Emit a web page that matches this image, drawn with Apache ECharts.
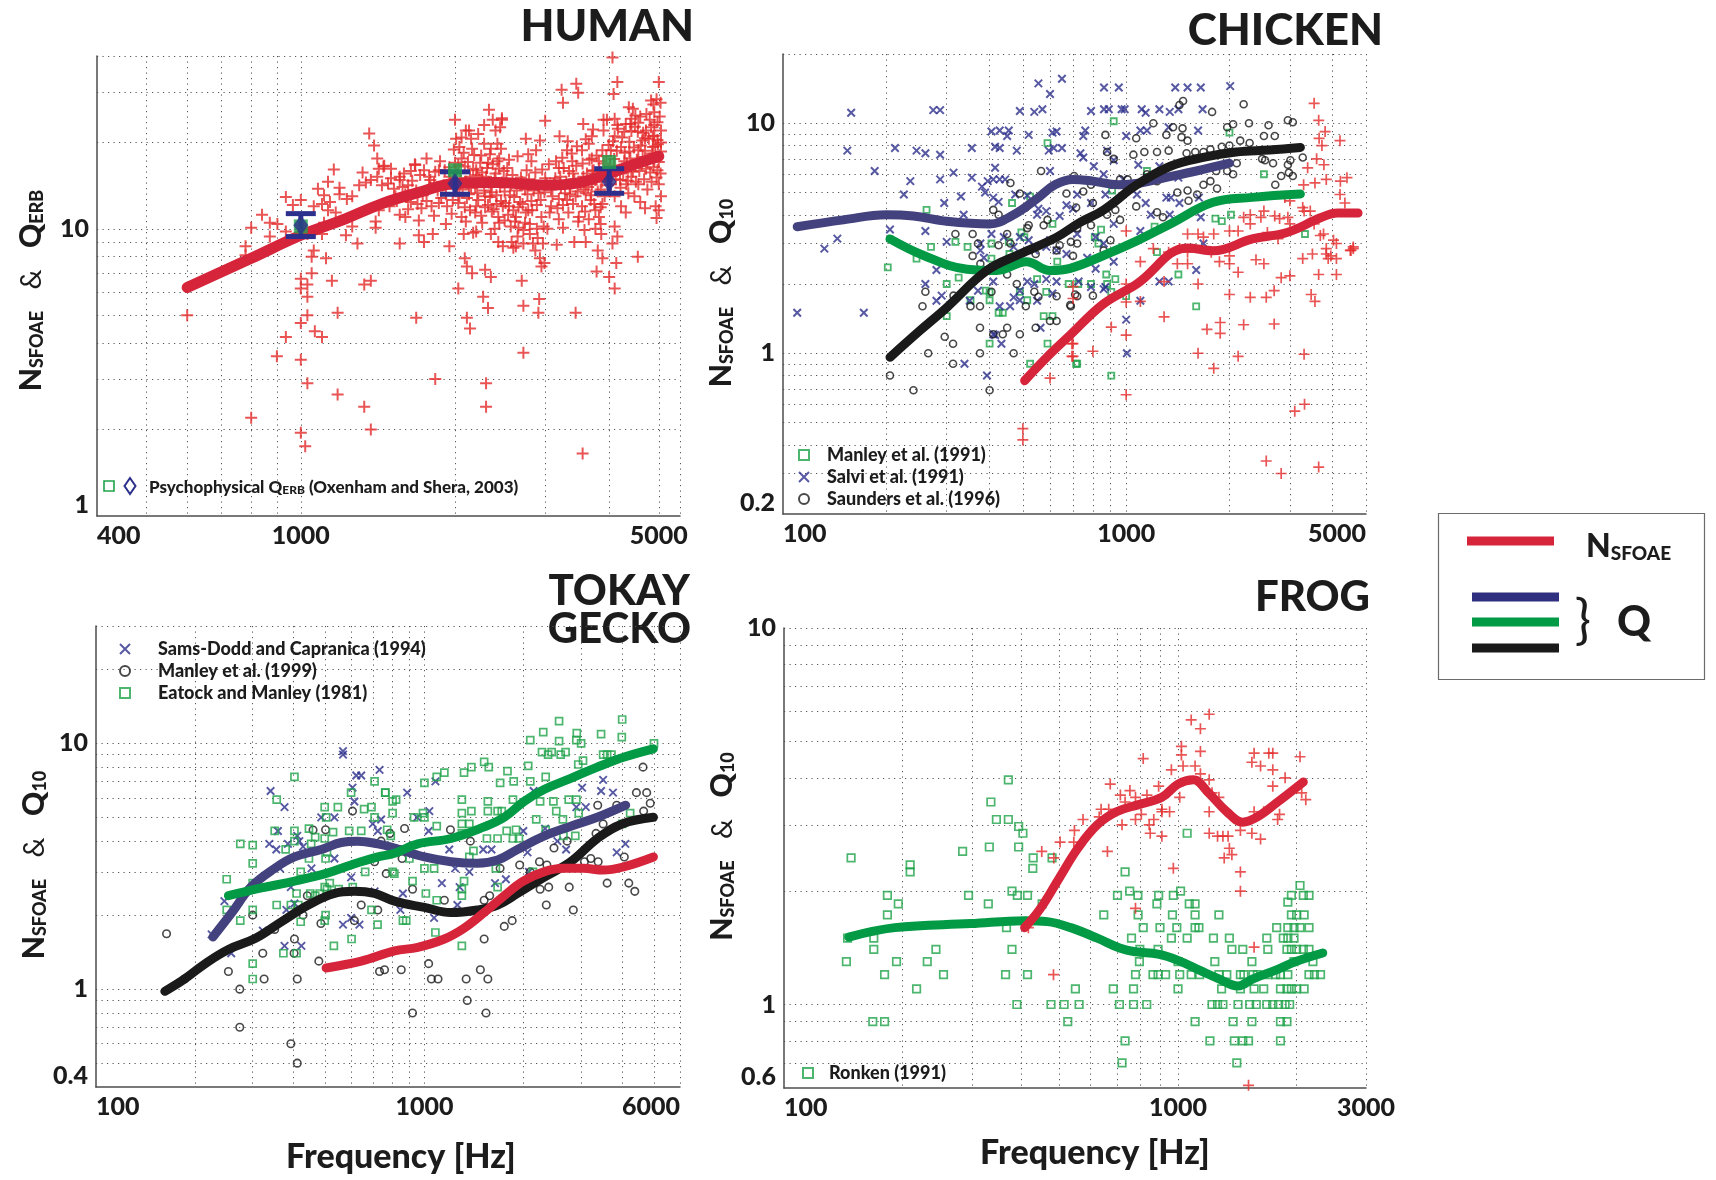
<!DOCTYPE html>
<html>
<head>
<meta charset="utf-8">
<script src="https://cdn.jsdelivr.net/npm/echarts/dist/echarts.min.js"></script>
<style>
html,body{margin:0;padding:0;background:#fff}
#chart{width:1716px;height:1180px}
</style>
</head>
<body>
<div id="chart"></div>
<script>
// ---------- axis ticks and labels ----------
const humanXTicks = [500,600,700,800,900,1000,2000,3000,4000,5000,5500];
const humanXLabels = [400,1000,5000];
const humanYTicks = [2,3,4,5,6,7,8,9,10,20,30,40];
const humanYLabels = [1,10];

const chickenXTicks = [200,300,400,500,600,700,800,900,1000,2000,3000,4000,5000];
const chickenXLabels = [100,1000,5000];
const chickenYTicks = [0.3,0.4,0.5,0.6,0.7,0.8,0.9,1,2,3,4,5,6,7,8,9,10,20];
const chickenYLabels = [0.2,1,10];

const geckoXTicks = [200,300,400,500,600,700,800,900,1000,2000,3000,4000,5000,6000];
const geckoXLabels = [100,1000,6000];
const geckoYTicks = [0.5,0.6,0.7,0.8,0.9,1,2,3,4,5,6,7,8,9,10,20,30];
const geckoYLabels = [0.4,1,10];

const frogXTicks = [200,300,400,500,600,700,800,900,1000,2000,3000];
const frogXLabels = [100,1000,3000];
const frogYTicks = [0.7,0.8,0.9,1,2,3,4,5,6,7,8,9,10];
const frogYLabels = [0.6,1,10];

// ---------- HUMAN: [frequency Hz, value] ----------
const humanN = [
[600,5.0],[800,2.2],[898,3.6],[935,4.2],[1000,3.5],[1030,2.9],[1000,1.95],[1020,1.75],[1000,4.7],[1030,5.0],[1065,4.4],[1100,4.2],
[1030,5.8],[1000,6.2],[1000,6.7],[1030,6.4],[1050,7.0],[1050,8.0],[1060,8.4],[1120,7.9],[1150,6.6],[1180,5.1],[1180,2.65],[1330,2.4],
[1370,2.0],[1330,6.4],[1370,6.6],[1290,8.9],[1400,10.1],[1360,21.5],[1390,19.5],[1410,17.6],[780,8.7],[780,8.1],[800,10.1],[840,11.2],
[870,10.5],[870,9.4],[900,10.4],[935,12.9],[935,9.8],[965,12.1],[1000,12.6],[1080,13.8],[1100,12.2],[1130,14.6],[1160,16.1],[1190,13.9],
[1190,13.2],[1130,11.6],[1110,10.5],[1100,9.6],[1225,9.5],[1260,10.2],[1230,12.7],[1260,13.0],[1300,14.2],[1320,15.7],[1340,14.5],[1370,14.8],
[1410,15.2],[1420,16.2],[1450,16.5],[1440,14.2],[1420,11.6],[1400,10.6],[1170,11.4],[1140,12.4],[1110,13.1],[1060,12.0],[1030,9.6],
[1680,4.9],[1830,3.0],[2300,2.9],[2300,2.4],[2030,6.2],[2110,4.9],[2140,4.5],[2090,7.9],[2110,7.4],[2160,7.0],[2290,7.2],[2350,6.8],
[2270,5.8],[2320,5.3],[2700,6.6],[2720,5.4],[2720,3.7],[2920,5.7],[2910,5.1],[3440,5.1],[3550,1.65],[3780,7.1],[4000,6.8],[4100,6.2],
[4130,7.6],[4550,8.0],[5000,11.6],[1560,8.9],[1700,9.5],[1740,9.0],[1810,9.6],[1950,8.7],[2080,9.6],[2170,9.7],[2430,9.0],[2480,8.7],
[2630,8.7],[2870,8.4],[2930,7.9],[2950,7.4],[2990,7.6],[3160,8.8],[3420,9.0],[3600,9.0],[3800,8.4],[3880,7.9],[4060,8.9],[4150,9.4],
[4100,10.2],[3760,10.0],[3850,10.4],
[4060,39.5],[3450,32],[3230,30.5],[3480,29.8],[3250,27.5],[4150,32.5],[4080,29.5],[5000,32.5],[4830,28],[4950,28.3],[4370,26.5],[2330,26],
[2470,24],[2000,24],[2100,22],[2150,20.6],[3000,23.8],[2750,20.6],[3200,21],[3560,23.2],[3720,22.2],[3900,24],[4100,24.2],[4600,24.6],
[4400,23.2],[4550,21.8],[4900,23],[5050,22],[4700,20.7],[4980,19.7],[1673,16.7],[1860,16],[1790,14.8],[1500,16.2],[1560,15.2],[1620,14.2],
[1720,11.8],
[1455,16.6],[1500,15],[1480,14.4],[1560,14.8],[1580,14],[1530,13],[1600,13.2],[1640,12.4],[1680,13.6],[1620,11.7],[1560,11.2],[1490,12],
[1670,16.8],[1740,16],[1780,15.2],[1820,14.4],[1850,13.6],[1880,12.8],[1800,12],[1930,12],[1970,11.3],[1950,15.2],[2000,17],[1990,18.9],
[2010,20.6],[2040,19.3],[1950,16.4],[1910,16],[2060,17.6],[2000,13.8],[2040,13],[2030,12.3],[2060,11],[2090,11.9],
[2130,22],[2160,19],[2090,16.5],[2140,15.2],[2190,14],[2130,13.2],[2220,12.6],[2190,11.4],[2260,10.5],[2290,11.9],[2340,12.9],[2350,14],
[2390,15],[2320,17],[2350,19],[2420,19.8],[2400,22],[2370,24],[2470,24.3],[2450,22.6],[2440,17.6],[2440,16.2],[2470,14.5],[2500,13.5],
[2460,12.5],[2430,11],[2390,10],[2500,10.7],[2300,15.2],[2200,16],[2250,18],[2280,13.6],[2360,11.5],[2410,12.2],[2210,15.4],
[2530,16.3],[2570,14.3],[2610,12.9],[2550,12],[2630,11],[2570,10.2],[2650,9.4],[2740,10.5],[2780,11.6],[2820,12.5],[2740,13.7],[2700,14.6],
[2760,16],[2820,17.2],[2880,18.8],[2930,20.3],[2860,14.3],[2910,13.3],[2950,11],[2890,10],[2970,8.9],[3000,15],[2600,11.6],[2680,12.4],
[2660,10.1],[2800,9.6],[2720,8.9],[2580,9.0],
[3080,13.7],[3140,15],[3190,16.3],[3240,17.7],[3310,18.8],[3390,17.2],[3460,19.4],[3540,18.8],[3600,20.5],[3650,19.8],[3700,17.6],[3730,16],
[3820,17.2],[3880,18.8],[3900,22],[3960,24],[3080,12],[3190,12.7],[3280,13.3],[3360,14],[3440,13],[3540,12],[3600,13.3],[3680,12.6],
[3760,11.6],[3820,11],[3650,10.8],[3490,11],[3330,11.4],[3190,10.8],[3880,12.2],[3850,13.7],[3700,14.3],[3930,15.2],[3400,15.6],[3560,15.2],
[4030,18.8],[4100,21],[4150,23],[4220,19.3],[4280,17.2],[4150,16],[4030,14.3],[4100,13],[4220,12],[4320,14.3],[4420,15.2],[4500,16.6],
[4560,18.8],[4640,20.3],[4720,22],[4800,24],[4870,19.3],[4900,17.2],[4970,16],[5000,14.3],[5050,13],[4930,12],[4840,14.6],[4720,16.2],
[4560,14.3],[4480,13],[4600,12.4],[4360,13.3],[4870,21],[4970,23.5],[4800,17.6],[4280,21.8],[4420,24.2],[4500,24.8],[4650,17.8],[4380,18.6],
[4900,25.5],[5050,18.6],[4750,13.7],[4200,14.8],
[1520,13.8],[1540,12.5],[1590,15.6],[1610,12.9],[1650,14.7],[1690,12.2],[1710,15.4],[1730,13.1],[1760,12.5],[1790,13.9],[1830,15.8],[1860,12.3],
[1900,14.2],[1920,13.2],[1960,14.7],[1980,12.6],[1870,17.2],[1760,17.6],[1640,15.9],[1600,11.0],[1700,10.7],[1820,11.1],[1920,10.4],
[2010,15.8],[2020,14.1],[2030,16.7],[2050,15.0],[2070,13.7],[2080,18.4],[2100,14.6],[2110,12.8],[2120,17.1],[2140,11.6],[2150,13.9],[2170,16.2],
[2180,18.1],[2200,12.0],[2210,13.3],[2230,14.9],[2240,17.0],[2250,11.1],[2260,15.7],[2280,19.8],[2290,13.0],[2310,16.3],[2320,12.1],[2330,14.5],
[2340,18.2],[2360,13.4],[2370,16.8],[2380,11.7],[2400,15.6],[2410,13.1],[2420,17.2],[2440,10.5],[2450,14.0],[2460,19.0],[2480,12.0],[2490,15.9],
[2100,10.6],[2200,9.8],[2350,9.6],[2060,20.8],[2220,21.4],[2280,23.0],
[2510,12.3],[2520,14.9],[2540,11.2],[2560,13.1],[2590,15.4],[2620,10.6],[2640,13.6],[2660,11.9],[2690,15.1],[2710,12.2],[2720,9.9],[2750,11.4],
[2770,13.2],[2790,14.9],[2800,10.4],[2830,11.6],[2850,13.6],[2870,15.7],[2890,12.1],[2900,9.3],[2920,14.1],[2940,12.6],[2960,16.1],[2980,10.2],
[2990,13.4],[2550,17.4],[2650,17.9],[2780,18.2],[2600,8.6],[2840,8.9],
[3020,14.4],[3050,16.8],[3060,11.4],[3100,13.0],[3120,14.4],[3150,17.2],[3170,11.8],[3210,15.2],[3220,13.9],[3250,12.1],[3260,16.3],[3300,14.6],
[3310,12.6],[3340,15.9],[3350,13.2],[3380,18.3],[3400,12.2],[3420,14.9],[3450,16.6],[3470,13.5],[3480,10.6],[3030,10.0],[3250,10.1],[3320,20.2],
[3520,14.4],[3550,16.9],[3570,13.7],[3590,11.5],[3620,15.6],[3640,14.0],[3660,17.4],[3690,13.1],[3710,15.9],[3740,12.2],[3760,14.8],[3780,18.0],
[3800,13.5],[3830,15.8],[3850,11.9],[3870,14.6],[3900,16.9],[3920,13.0],[3950,17.9],[3980,14.2],[3990,19.6],[3700,21.0],[3580,9.9],[3860,9.6],
[4020,16.6],[4050,15.3],[4070,20.2],[4090,17.5],[4120,14.9],[4140,18.7],[4160,22.3],[4190,16.1],[4210,13.9],[4240,20.8],[4260,15.6],[4290,18.4],
[4310,23.2],[4330,16.9],[4350,14.7],[4380,20.1],[4400,17.6],[4420,21.9],[4450,15.8],[4470,19.2],[4490,22.7],[4510,14.6],[4530,17.4],[4560,23.4],
[4580,15.9],[4610,19.5],[4630,16.8],[4660,21.6],[4680,14.9],[4700,18.7],[4730,25.1],[4750,17.1],[4780,20.6],[4810,15.7],[4830,22.6],[4850,18.3],
[4880,16.4],[4900,21.1],[4920,19.4],[4950,15.1],[4970,20.4],[5000,17.1],[5020,24.6],[5040,15.6],[5050,20.0],[4310,11.4],[4700,11.8],[4950,10.9],
[4450,26.2],[4880,27.1],[5040,27.5]
];
const humanNFit = [[600,6.25],[800,7.9],[1000,9.5],[1200,10.7],[1450,12.3],[1700,13.4],[2000,14.4],[2400,14.5],[3000,14.2],[3500,14.5],[4000,15.6],[4500,16.8],[5000,17.9]];

// psychophysical Q_ERB
const psyFreq = [1000,2000,4000];
const psyQerb = [10.3,14.4,14.6];
const psyLow = [9.4,13.2,13.3];
const psyHigh = [11.3,15.8,16.2];
const psyQerbAlt = [10.2,16.0,17.1];

// ---------- CHICKEN ----------
const chickenSalvi = [
[158,11.1],[274,11.4],[287,11.4],[154,7.6],[185,6.2],[212,7.8],[245,7.6],[260,7.4],[287,7.3],[355,7.8],[235,5.6],[225,4.9],[287,5.7],
[295,4.5],[314,6.1],[330,4.8],[355,5.8],[336,4.0],[260,3.4],[300,3.05],[205,3.45],[144,3.15],[132,2.85],[280,2.3],[260,2.0],[290,1.78],
[280,1.69],[110,1.5],[172,1.5],[338,0.9],[393,0.8],[415,1.2],[433,1.1],[428,1.6],[459,1.6],[490,1.7],[490,11.3],[540,11.2],[570,11.5],
[555,14.9],[600,13.4],[650,15.6],[405,9.2],[428,9.3],[455,9.3],[450,8.8],[415,7.9],[428,7.8],[480,7.6],[520,8.9],[595,7.6],[610,9.1],
[627,9.2],[615,7.8],[650,7.8],[600,6.2],[415,6.4],[380,5.3],[395,5.6],[410,5.7],[428,5.7],[444,5.7],[388,5.0],[410,4.75],[425,4.55],
[475,4.9],[515,4.85],[550,4.0],[555,4.25],[585,4.15],[640,3.95],[670,4.4],[700,4.25],[376,2.8],[385,2.6],[405,3.3],[376,3.0],[440,3.2],
[470,2.9],[490,3.2],[520,3.1],[540,2.8],[585,2.9],[600,3.1],[627,2.8],[670,2.7],[515,2.05],[540,2.0],[585,2.1],[627,2.05],[610,1.82],
[350,1.69],[370,1.87],[470,1.75],[490,1.87],[550,1.69],[563,1.29],[410,1.21],[410,2.05],
[862,14.3],[952,14.3],[1390,14.3],[1510,14.3],[1650,14.3],[2010,14.5],[790,11.3],[862,11.5],[890,11.5],[970,11.5],[990,11.5],[1110,11.5],
[1140,11.1],[1250,11.5],[1340,11.2],[1420,11.5],[1670,11.5],[760,9.3],[750,8.8],[1100,9.3],[1150,9.3],[1330,9.6],[1620,9.3],[1000,8.8],
[736,7.4],[750,7.1],[880,7.6],[920,6.9],[805,6.5],[1085,6.6],[1250,6.5],[860,6.0],[980,5.7],[1150,5.8],[1420,5.8],[720,4.9],[790,4.5],
[870,4.9],[1075,4.9],[1140,4.5],[1310,4.75],[1350,4.75],[1430,4.5],[1630,4.75],[1650,3.9],[920,3.65],[1100,3.4],[1180,4.0],[1340,4.0],
[720,3.3],[815,3.2],[860,3.0],[920,2.5],[770,2.6],[815,2.33],[727,2.05],[790,1.94],[860,1.9],[870,1.94],[1330,2.05],[1250,2.05],[1600,2.3],
[1680,3.0],[1100,1.69],[1000,1.4],[1005,1.0]
];
const chickenSaunders = [
[205,0.8],[240,0.69],[400,0.69],[265,1.0],[313,0.9],[296,1.18],[313,1.1],[375,1.0],[470,1.0],[375,1.29],[410,1.21],[437,1.21],[450,1.29],
[490,1.21],[545,1.29],[600,1.38],[627,1.38],[255,1.6],[352,1.6],[375,1.6],[510,1.6],[260,1.85],[314,1.78],[405,1.85],[480,2.0],[540,1.85],
[555,1.76],[627,1.77],[690,1.6],[720,1.77],[318,3.3],[357,3.3],[370,3.0],[357,2.65],[376,2.45],[425,2.95],[450,3.3],[460,3.0],[410,4.2],
[425,4.0],[460,5.5],[510,4.3],[515,3.5],[520,3.6],[565,6.2],[575,3.6],[590,3.8],[627,2.8],[640,2.95],[670,4.95],[690,3.05],[705,5.9],
[715,4.3],[545,2.7],[490,4.95],[450,2.2],
[1465,12.5],[1430,12.0],[2200,12.1],[1780,11.2],[2960,10.3],[3060,10.1],[2280,10.0],[2600,9.8],[2050,9.9],[1970,9.6],[1370,9.6],[1460,9.5],
[1200,10.0],[870,8.9],[1070,8.6],[1310,8.9],[1450,8.7],[1510,8.4],[2710,8.8],[2520,8.8],[2150,8.4],[2290,8.2],[2000,8.0],[1900,7.9],
[1760,7.7],[1680,7.5],[1590,7.5],[1500,7.4],[1330,7.6],[1230,7.5],[1130,7.5],[1050,7.3],[920,7.0],[880,7.5],[3010,6.9],[3270,7.1],
[2960,6.6],[2680,6.7],[2490,7.0],[2100,6.7],[2050,6.0],[1970,6.2],[1830,6.2],[1680,5.4],[1760,5.6],[1840,5.2],[1610,4.9],[1510,5.1],
[1410,5.0],[1230,5.6],[1150,6.0],[1050,5.4],[1010,5.7],[960,5.7],[910,5.4],[790,5.4],[750,5.05],[800,4.5],[880,4.0],[930,4.2],[960,3.8],
[1070,4.35],[1230,4.1],[1280,3.9],[1520,4.6],[790,3.6],[720,3.5],[720,3.0],[860,2.8],[900,3.1],[700,2.65],[710,1.8],[800,1.78],[687,1.62],
[2980,6.1],[3060,5.9],[2720,5.4],[2540,6.9],[2830,5.9]
];
const chickenManley = [
[202,2.36],[245,2.58],[262,4.2],[270,2.9],[300,2.0],[300,1.45],[318,3.05],[325,2.13],[345,2.9],[352,1.7],[400,1.84],[390,1.87],[400,1.7],
[405,3.0],[405,2.58],[425,1.5],[437,1.5],[465,4.5],[455,3.05],[457,2.7],[490,1.85],[495,3.35],[505,3.2],[525,4.8],[515,1.7],[525,0.9],
[550,2.1],[575,1.45],[590,1.1],[585,1.85],[590,8.2],[610,3.65],[610,1.45],[630,2.5],[680,2.0],[720,0.9],[400,1.1],
[920,10.2],[1150,6.2],[910,5.1],[1210,3.55],[845,3.45],[830,3.0],[810,3.2],[875,2.2],[930,2.1],[880,2.0],[790,2.0],[725,2.0],[905,1.85],
[1000,1.77],[1230,2.75],[1420,2.2],[1600,1.6],[2000,9.1],[2520,6.0],[2020,4.0],[1820,3.85],[1900,3.75],[3320,3.3],[715,0.9],[905,0.8]
];
const chickenN = [
[500,0.47],[500,0.42],[600,0.78],[700,1.95],[700,1.73],[700,1.1],[700,0.97],[695,0.97],[695,1.1],[800,1.02],[905,1.3],[1000,1.2],
[1000,0.66],[1000,1.67],[1000,2.0],[1000,3.4],[1100,1.68],[1290,1.44],[1620,2.0],[1620,1.0],[1720,1.27],[1800,0.86],[1880,1.36],[1880,1.22],
[2000,1.8],[2120,0.97],[2200,1.33],[2300,1.75],[2560,1.75],[2700,1.34],[2700,1.87],[2830,2.13],[3000,2.17],[3300,0.99],[3310,0.6],[3100,0.56],
[2560,0.34],[2830,0.3],[3640,0.32],[3460,1.8],[3550,1.68],[3640,2.2],[4100,2.2],[3490,2.7],[3270,2.58],[3830,2.7],[4020,3.1],[4100,2.58],
[4500,2.8],[4590,2.85],[4340,4.5],[4210,5.6],[4400,5.8],[4200,4.9],[4200,8.4],[3800,9.2],[3640,10.3],[3530,12.2],[3650,8.6],[3720,8.0],
[3590,7.0],[3770,6.6],[3830,5.7],[3550,5.5],[3380,6.4],[3300,4.15],[2900,4.75],[2960,3.9],[2710,3.95],[2520,4.15],[2470,3.9],[2300,3.65],
[2200,3.9],[2300,4.0],[2120,3.4],[2000,3.4],[1800,3.3],[1680,3.2],[1620,3.3],[1510,3.3],[1510,2.75],[1510,2.45],[1430,2.85],[1410,2.45],
[1330,2.75],[1290,2.05],[1200,2.85],[1100,2.5],[1770,2.75],[1870,2.5],[2000,2.45],[2120,2.25],[2000,2.65],[2390,2.55],[2520,2.45],[2770,3.15],
[2800,3.85],[3000,3.65],[2580,3.35],[3000,4.6],[3290,5.4],[3270,4.3],[3530,3.65],[3760,3.3],[3830,2.85],[3880,2.58],[4100,3.0],[3950,2.65],
[4520,2.8],[4590,2.9],[3680,3.25],[3440,4.15]
];
const chickenSalviFit = [[110,3.55],[150,3.8],[200,4.0],[240,3.95],[300,3.75],[400,3.65],[470,4.0],[550,4.7],[620,5.4],[700,5.7],[800,5.6],[950,5.4],[1100,5.5],[1300,5.8],[1600,6.2],[2000,6.7]];
const chickenSaundersFit = [[205,0.96],[250,1.25],[300,1.58],[393,2.29],[490,2.7],[626,3.19],[732,3.7],[860,4.2],[1074,5.4],[1345,6.5],[1677,7.1],[2090,7.5],[2620,7.65],[3220,7.85]];
const chickenManleyFit = [[205,3.14],[257,2.66],[344,2.32],[420,2.29],[512,2.5],[600,2.29],[687,2.34],[859,2.66],[1074,3.08],[1345,3.65],[1792,4.53],[2330,4.76],[3220,4.92]];
const chickenNFit = [[506,0.76],[587,0.96],[687,1.2],[859,1.64],[1074,2.0],[1510,2.87],[1790,2.79],[2330,3.14],[2940,3.35],[3700,3.89],[4130,4.07],[4740,4.07]];

// ---------- TOKAY GECKO ----------
const geckoSamsDodd = [
[340,6.4],[375,5.5],[358,4.4],[337,3.9],[354,3.7],[384,3.9],[410,4.2],[427,3.8],[416,4.0],[363,3.1],[392,2.6],[402,2.23],[380,2.1],
[322,1.73],[258,1.4],[246,2.28],[225,1.67],[375,1.5],[422,1.5],[485,5.0],[532,5.0],[565,9.3],[565,9.0],[620,7.4],[642,7.4],[730,7.8],
[604,6.6],[612,5.8],[696,4.7],[721,4.4],[738,4.9],[532,3.4],[598,2.85],[453,3.1],[705,2.5],[565,1.83],[634,1.83],[598,1.95],
[886,6.3],[1080,7.0],[1035,5.3],[950,5.0],[1030,4.4],[1190,3.7],[1240,3.1],[1370,3.0],[1130,2.7],[1280,2.6],[1260,2.2],[845,2.1],
[860,2.45],[1070,1.95],[1510,3.7],[1600,3.7],[1640,2.7],[1770,2.8],[2000,4.4],[2060,3.6],[2150,6.4],[2330,4.5],[2540,4.0],[2700,3.7],
[3020,6.6],[2900,5.5],[3100,5.5],[3500,7.1],[3450,6.4],[3750,6.3],[3850,3.6],[4090,3.9],[2080,3.0]
];
const geckoManley = [
[164,1.68],[186,1.1],[253,1.18],[274,1.0],[274,0.7],[322,1.4],[300,2.0],[325,1.1],[392,0.6],[401,1.4],[410,1.1],[410,0.5],[477,1.3],
[484,1.85],[458,4.44],[500,4.45],[604,5.3],[612,1.9],[705,3.3],[730,1.18],[765,2.95],[721,2.1],[402,1.6],[427,2.0],[350,1.75],[440,2.4],
[642,2.2],[738,4.0],
[756,1.2],[850,1.2],[920,0.8],[1030,1.27],[1050,1.1],[1100,1.1],[1340,1.1],[1350,0.9],[1480,1.2],[1560,1.1],[1540,0.8],[1520,1.6],
[1750,1.8],[1850,1.9],[1200,4.45],[1380,4.0],[870,4.5],[785,4.3],[855,3.4],[920,2.55],[1150,2.3],[1520,2.3],[1580,2.4],[1700,3.1],
[1950,3.2],[2240,3.3],[2100,3.0],[2360,3.2],[2390,2.6],[2350,2.2],[2760,2.6],[2840,2.1],[2250,2.55],[2480,3.75],[2720,4.0],[3070,3.3],
[3210,3.4],[3330,4.3],[3380,3.3],[3600,2.7],[3500,4.7],[3370,5.6],[3850,5.6],[4060,3.45],[4190,2.7],[4370,2.5],[4420,6.3],[4750,6.3],
[4870,5.7],[4630,8.0],[4650,5.3]
];
const geckoEatock = [
[250,2.8],[250,2.1],[275,3.9],[275,1.9],[300,3.85],[300,3.25],[300,2.7],[300,2.1],[300,1.27],[300,1.1],[355,5.9],[350,4.4],[355,2.2],
[378,3.7],[392,2.2],[402,7.3],[402,4.4],[402,4.0],[408,2.45],[413,2.2],[420,1.88],[372,1.4],[408,1.4],[445,4.5],[452,3.9],[465,4.15],
[465,2.4],[449,2.45],[480,2.45],[497,5.5],[502,5.0],[497,4.1],[500,3.4],[497,2.6],[505,2.55],[515,2.7],[520,2.45],[500,2.0],[497,1.9],
[530,1.5],[545,5.5],[527,4.35],[548,2.55],[598,6.3],[605,2.6],[600,1.6],[642,4.4],[660,3.0],[655,5.4],[705,7.0],[760,6.3],[705,5.0],
[690,2.1],[720,1.83],[770,4.45],[800,5.8],[800,3.0],[690,5.5],[590,4.4],[505,3.6],[420,3.0],[445,3.4],
[760,6.3],[820,5.9],[800,5.2],[930,5.0],[990,5.2],[1090,7.3],[1150,7.6],[1000,6.9],[1320,7.6],[1390,8.0],[1520,8.4],[1570,8.0],
[1790,7.7],[1700,6.9],[1870,7.0],[2070,8.1],[2100,7.0],[2340,7.3],[2100,10.3],[2300,11.1],[2280,9.2],[2380,9.0],[2440,9.2],[2600,9.0],
[2690,9.2],[2570,12.3],[2570,10.2],[2910,11.0],[2900,10.3],[3000,10.0],[2940,8.2],[3040,8.5],[3450,10.9],[3500,9.0],[3600,9.0],[3710,9.0],
[4000,12.5],[3990,10.6],[5000,10.0],[1000,5.0],[1090,4.6],[1300,5.9],[1300,5.2],[1300,4.7],[1390,5.3],[1560,5.8],[1670,5.3],[1860,5.9],
[1560,5.3],[1720,5.3],[1300,4.3],[1370,4.7],[1550,4.1],[1670,4.1],[1860,4.1],[1780,4.4],[1900,4.45],[2190,4.9],[2250,5.8],[2470,5.8],
[2520,5.3],[2640,4.9],[2750,5.9],[2900,5.9],[2950,5.2],[2880,4.2],[2650,4.2],[2340,4.45],[4230,5.2],[4000,4.7],[790,4.2],[860,3.7],
[900,3.4],[810,2.95],[920,2.75],[1010,2.45],[1090,2.3],[1300,2.4],[1320,2.75],[1370,3.45],[1410,3.65],[1650,3.1],[1670,2.6],[860,1.9],
[880,1.9],[1080,1.7],[1300,1.5],[1070,3.1],[1000,3.1],[1300,2.55],[1940,4.1],[2140,3.0]
];
const geckoSamsDoddFit = [[227,1.63],[258,2.03],[297,2.61],[350,3.1],[402,3.45],[485,3.7],[558,3.95],[627,4.0],[721,3.9],[811,3.75],[1000,3.45],[1205,3.3],[1450,3.25],[1670,3.35],[1920,3.7],[2320,4.2],[2790,4.6],[3360,5.0],[4100,5.6]];
const geckoEatockFit = [[253,2.4],[319,2.58],[402,2.75],[508,2.97],[598,3.2],[721,3.45],[811,3.57],[954,3.9],[1205,4.1],[1520,4.57],[1750,5.0],[2010,5.8],[2320,6.5],[2790,7.2],[3360,8.0],[4060,8.8],[4980,9.5]];
const geckoManleyFit = [[162,0.98],[186,1.1],[215,1.27],[253,1.45],[306,1.61],[367,1.88],[443,2.2],[532,2.45],[612,2.5],[705,2.45],[811,2.28],[1000,2.15],[1205,2.05],[1450,2.1],[1670,2.2],[1920,2.45],[2310,2.85],[2790,3.3],[3360,4.1],[4000,4.7],[4980,5.0]];
const geckoNFit = [[502,1.22],[642,1.3],[811,1.43],[954,1.48],[1150,1.6],[1320,1.77],[1520,2.05],[1750,2.4],[2000,2.75],[2310,3.0],[2660,3.1],[3050,3.1],[3500,3.05],[4060,3.15],[4980,3.45]];

// ---------- FROG ----------
const frogN = [
[417,1.6],[483,1.2],[451,2.55],[484,2.45],[502,2.7],[546,2.9],[544,2.7],[574,3.1],[662,2.55],[631,3.15],[638,3.3],[673,3.85],[667,3.3],
[714,3.6],[721,3.0],[734,3.45],[755,3.7],[780,3.55],[780,3.1],[816,4.5],[807,3.2],[834,3.6],[845,3.0],[850,2.85],[868,3.1],[893,3.8],
[910,3.3],[910,3.25],[910,2.8],[952,3.25],[962,4.2],[973,2.3],[1010,3.55],[1020,4.85],[1020,4.6],[1030,4.3],[1080,5.7],[1140,5.4],
[1140,4.7],[1105,4.3],[1200,5.9],[1140,4.1],[1200,3.95],[1220,3.65],[1200,3.25],[1270,3.55],[1200,2.85],[1260,2.8],[1300,2.8],[1340,2.8],
[1350,2.6],[1310,2.45],[1370,2.5],[1440,2.25],[1440,2.0],[1440,2.9],[1540,2.85],[1540,4.4],[1560,4.65],[1620,4.3],[1700,4.65],[1740,4.65],
[1740,4.2],[1740,3.8],[1620,2.75],[1560,3.25],[1650,3.25],[1790,3.1],[1810,3.2],[1870,4.0],[2040,4.55],[2060,3.65],[2110,3.5],[1560,1.42],
[1510,0.61],[780,1.8]
];
const frogRonken = [
[148,2.45],[209,2.35],[209,2.25],[183,1.95],[195,1.85],[183,1.73],[145,1.5],[169,1.5],[169,1.4],[144,1.3],[193,1.3],[180,1.2],[217,1.1],
[231,1.3],[243,1.4],[254,1.2],[168,0.9],[180,0.9],[284,2.55],[294,1.95],[330,1.85],[332,2.62],[335,3.45],[346,3.1],[371,3.1],[371,3.95],
[394,2.97],[404,2.85],[394,2.62],[429,2.45],[479,2.45],[428,2.3],[379,2.0],[391,1.95],[415,1.95],[367,1.6],[379,1.4],[365,1.2],[415,1.2],
[390,1.0],[452,1.85],[476,1.0],[514,1.0],[525,0.9],[549,1.1],[561,1.0],[648,1.73],[685,1.1],[710,1.0],[734,0.8],[721,0.7],[734,2.25],
[754,2.0],[702,1.95],[762,1.5],[791,1.95],[792,1.73],[771,1.1],[771,1.0],[798,1.3],[816,1.6],[833,1.0],[780,1.2],[800,1.4],[864,1.2],
[890,1.2],[884,1.85],[893,1.95],[900,1.6],[890,1.4],[930,1.2],[973,1.95],[968,1.73],[993,1.6],[1015,2.0],[962,1.5],[1000,1.3],[1000,1.1],
[1010,1.2],[1055,1.5],[1080,1.2],[1068,1.85],[1105,1.85],[1105,1.73],[1105,1.6],[1130,1.6],[1135,1.2],[1105,0.9],[1055,2.85],[1230,1.5],
[1240,1.3],[1270,1.73],[1205,0.8],[1260,1.0],[1300,1.0],[1290,1.1],[1350,1.5],[1370,1.4],[1380,0.9],[1390,0.8],[1410,0.7],[1420,1.0],
[1440,1.1],[1460,1.4],[1470,1.2],[1460,0.8],[1510,0.8],[1540,0.9],[1540,1.3],[1520,1.0],[1580,1.0],[1560,1.1],[1590,1.2],[1650,1.1],
[1680,1.5],[1690,1.4],[1780,1.6],[1680,1.0],[1740,1.0],[1800,1.0],[1870,1.0],[1920,1.0],[1820,0.9],[1890,0.9],[1820,0.8],[1820,1.1],
[1890,1.1],[1940,1.1],[2000,1.1],[2090,1.1],[1820,1.2],[1900,1.2],[1970,1.3],[1850,1.5],[1900,1.5],[1970,1.5],[1890,1.4],[1940,1.4],
[2000,1.4],[2080,1.4],[2150,1.4],[1900,1.6],[1970,1.6],[2040,1.6],[2150,1.6],[1940,1.73],[2000,1.73],[2090,1.73],[1900,1.87],[2080,1.95],
[2150,1.95],[1940,1.95],[2040,2.07],[2150,1.2],[2220,1.2],[2300,1.2],[2200,1.3],[1770,1.2],[1690,1.2],[1440,1.2],[1550,1.2],[1270,1.2],
[1220,1.0],[1330,1.2]
];
const frogRonkenFit = [[146,1.51],[191,1.6],[298,1.64],[408,1.67],[466,1.66],[534,1.6],[624,1.5],[714,1.41],[781,1.38],[890,1.36],[1000,1.31],[1140,1.23],[1270,1.17],[1420,1.12],[1550,1.17],[1790,1.24],[1990,1.3],[2330,1.37]];
const frogNFit = [[408,1.6],[446,1.79],[500,2.17],[557,2.6],[624,3.0],[698,3.25],[798,3.4],[910,3.55],[1000,3.85],[1094,3.95],[1195,3.65],[1330,3.25],[1460,3.05],[1590,3.15],[1790,3.45],[2080,3.9]];

// ---------- styling ----------
const FONT = 'Lato, "Open Sans", "DejaVu Sans", sans-serif';
const INK = '#1c1c1c';
const RED = '#e42a2a', RED_FIT = '#d6253b';
const NAVY = '#2d2f8c', BLUE_FIT = '#43427e';
const GREEN = '#1fa24a', GREEN_FIT = '#029a45';
const BLACK = '#1a1a1a';

const PLUS = 'path://M0,5L10,5M5,0L5,10';
const CROSS = 'path://M0,0L10,10M10,0L0,10';

function fmt(v) { return String(Math.round(v * 1000) / 1000); }

const gridLine = { show: true, lineStyle: { color: '#555555', width: 1, type: [1.2, 4.3] } };

function xAxis(grid, min, max, ticks, labels, alignMax) {
  return {
    type: 'log', logBase: 10, gridIndex: grid, min: min, max: max,
    axisLine: { show: true, onZero: false, lineStyle: { color: '#4d4d4d', width: 1.5 } },
    axisTick: { show: false, customValues: ticks },
    splitLine: gridLine,
    axisLabel: {
      customValues: labels, formatter: fmt, margin: 7,
      color: INK, fontFamily: FONT, fontWeight: 900, fontSize: 25,
      alignMinLabel: 'left', alignMaxLabel: alignMax
    }
  };
}
function yAxis(grid, min, max, ticks, labels, name, gap, pad) {
  return {
    type: 'log', logBase: 10, gridIndex: grid, min: min, max: max,
    axisLine: { show: true, onZero: false, lineStyle: { color: '#4d4d4d', width: 1.5 } },
    axisTick: { show: false, customValues: ticks },
    splitLine: gridLine,
    axisLabel: {
      customValues: labels, margin: 8,
      formatter: function (v) { const s = fmt(v); return Math.abs(v - min) / min < 1e-6 ? '{lo|' + s + '}' : s; },
      color: INK, fontFamily: FONT, fontWeight: 900, fontSize: 25,
      rich: { lo: { color: INK, fontFamily: FONT, fontWeight: 900, fontSize: 25, padding: [0, 0, 22, 0] } }
    },
    name: name, nameLocation: 'middle', nameRotate: 90, nameGap: gap,
    nameTextStyle: {
      padding: pad,
      rich: {
        a: { fontFamily: FONT, fontWeight: 900, fontSize: 30, color: INK, lineHeight: 36, verticalAlign: 'bottom' },
        c: { fontFamily: FONT, fontWeight: 'normal', fontSize: 28, color: INK, lineHeight: 36, verticalAlign: 'bottom' },
        b: { fontFamily: FONT, fontWeight: 900, fontSize: 18, color: INK, lineHeight: 11, verticalAlign: 'bottom' }
      }
    }
  };
}
function scatter(name, data, idx, symbol, size, color, bw) {
  return {
    type: 'scatter', name: name, data: data, xAxisIndex: idx, yAxisIndex: idx,
    symbol: symbol, symbolSize: size, symbolKeepAspect: true,
    itemStyle: { color: 'rgba(0,0,0,0)', borderColor: color, borderWidth: bw },
    z: 2, silent: true, animation: false
  };
}
function fit(name, data, idx, color, width) {
  return {
    type: 'line', name: name, data: data, xAxisIndex: idx, yAxisIndex: idx,
    symbol: 'none', showSymbol: false, smooth: 0.4,
    lineStyle: { color: color, width: width, cap: 'round', join: 'round' },
    z: 4, silent: true, animation: false
  };
}

const legendText = { fontFamily: FONT, fontWeight: 900, fontSize: 18, color: INK, lineHeight: 20 };
const NAME_SUFFIX = '{c|   &   }{a|Q}';

const option = {
  backgroundColor: '#ffffff',
  animation: false,
  grid: [
    { left: 97, top: 56, width: 583, height: 460 },
    { left: 783, top: 54, width: 583, height: 460 },
    { left: 96, top: 626, width: 584, height: 461 },
    { left: 784, top: 628, width: 582, height: 460 }
  ],
  xAxis: [
    xAxis(0, 400, 5500, humanXTicks, humanXLabels, 'center'),
    xAxis(1, 100, 5000, chickenXTicks, chickenXLabels, 'right'),
    xAxis(2, 100, 6000, geckoXTicks, geckoXLabels, 'right'),
    xAxis(3, 100, 3000, frogXTicks, frogXLabels, 'center')
  ],
  yAxis: [
    yAxis(0, 1, 40, humanYTicks, humanYLabels, '{a|N}{b|SFOAE}' + NAME_SUFFIX + '{b|ERB}', 51, [0, 9, 0, 0]),
    yAxis(1, 0.2, 20, chickenYTicks, chickenYLabels, '{a|N}{b|SFOAE}' + NAME_SUFFIX + '{b|10}', 40, [0, 18, 0, 0]),
    yAxis(2, 0.4, 30, geckoYTicks, geckoYLabels, '{a|N}{b|SFOAE}' + NAME_SUFFIX + '{b|10}', 39, [0, 17, 0, 0]),
    yAxis(3, 0.6, 10, frogYTicks, frogYLabels, '{a|N}{b|SFOAE}' + NAME_SUFFIX + '{b|10}', 27, [0, 0, 0, 23])
  ],
  legend: [
    { data: ['Manley et al. (1991)', 'Salvi et al. (1991)', 'Saunders et al. (1996)'],
      orient: 'vertical', left: 798, top: 445, padding: 0, itemWidth: 10, itemHeight: 10, itemGap: 2,
      selectedMode: false, textStyle: Object.assign({ padding: [0, 0, 0, 13] }, legendText) },
    { data: ['Sams-Dodd and Capranica (1994)', 'Manley et al. (1999)', 'Eatock and Manley (1981)'],
      orient: 'vertical', left: 119, top: 639, padding: 0, itemWidth: 10, itemHeight: 10, itemGap: 2,
      selectedMode: false, textStyle: Object.assign({ padding: [0, 0, 0, 23] }, legendText) },
    { data: ['Ronken (1991)'],
      orient: 'vertical', left: 802, top: 1063, padding: 0, itemWidth: 10, itemHeight: 10, itemGap: 2,
      selectedMode: false, textStyle: Object.assign({ padding: [0, 0, 0, 11] }, legendText) }
  ],
  series: [
    // human
    scatter('Human N', humanN, 0, PLUS, 12, RED, 2),
    fit('Human N fit', humanNFit, 0, RED_FIT, 11),
    {
      type: 'custom', name: 'Q_ERB range', xAxisIndex: 0, yAxisIndex: 0, z: 5, silent: true,
      data: psyFreq.map(function (f, i) { return [f, psyLow[i], psyHigh[i]]; }),
      encode: { x: 0, y: [1, 2] },
      renderItem: function (params, api) {
        const lo = api.coord([api.value(0), api.value(1)]);
        const hi = api.coord([api.value(0), api.value(2)]);
        const w = 15;
        return {
          type: 'group', children: [
            { type: 'line', shape: { x1: lo[0], y1: lo[1], x2: hi[0], y2: hi[1] }, style: { stroke: NAVY, lineWidth: 5 } },
            { type: 'line', shape: { x1: lo[0] - w, y1: lo[1], x2: lo[0] + w, y2: lo[1] }, style: { stroke: NAVY, lineWidth: 5 } },
            { type: 'line', shape: { x1: hi[0] - w, y1: hi[1], x2: hi[0] + w, y2: hi[1] }, style: { stroke: NAVY, lineWidth: 5 } }
          ]
        };
      }
    },
    { type: 'scatter', name: 'Q_ERB alt', xAxisIndex: 0, yAxisIndex: 0, z: 6, silent: true,
      data: psyFreq.map(function (f, i) { return [f, psyQerbAlt[i]]; }),
      symbol: 'rect', symbolSize: 14, itemStyle: { color: GREEN } },
    { type: 'scatter', name: 'Q_ERB', xAxisIndex: 0, yAxisIndex: 0, z: 7, silent: true,
      data: psyFreq.map(function (f, i) { return [f, psyQerb[i]]; }),
      symbol: 'diamond', symbolSize: [15, 20], itemStyle: { color: NAVY } },

    // chicken
    scatter('Manley et al. (1991)', chickenManley, 1, 'rect', 6, GREEN, 1.8),
    scatter('Salvi et al. (1991)', chickenSalvi, 1, CROSS, 7.5, NAVY, 2),
    scatter('Saunders et al. (1996)', chickenSaunders, 1, 'circle', 7, BLACK, 1.6),
    scatter('Chicken N', chickenN, 1, PLUS, 11, RED, 1.7),
    fit('Chicken Salvi fit', chickenSalviFit, 1, BLUE_FIT, 9),
    fit('Chicken Manley fit', chickenManleyFit, 1, GREEN_FIT, 9),
    fit('Chicken Saunders fit', chickenSaundersFit, 1, BLACK, 9),
    fit('Chicken N fit', chickenNFit, 1, RED_FIT, 9),

    // gecko
    scatter('Sams-Dodd and Capranica (1994)', geckoSamsDodd, 2, CROSS, 7.5, NAVY, 1.9),
    scatter('Manley et al. (1999)', geckoManley, 2, 'circle', 7.5, BLACK, 1.6),
    scatter('Eatock and Manley (1981)', geckoEatock, 2, 'rect', 7, GREEN, 1.7),
    fit('Gecko Sams-Dodd fit', geckoSamsDoddFit, 2, BLUE_FIT, 9),
    fit('Gecko Eatock fit', geckoEatockFit, 2, GREEN_FIT, 9),
    fit('Gecko Manley fit', geckoManleyFit, 2, BLACK, 9),
    fit('Gecko N fit', geckoNFit, 2, RED_FIT, 9),

    // frog
    scatter('Ronken (1991)', frogRonken, 3, 'rect', 7.5, GREEN, 1.7),
    scatter('Frog N', frogN, 3, PLUS, 11, RED, 1.7),
    fit('Frog Ronken fit', frogRonkenFit, 3, GREEN_FIT, 9),
    fit('Frog N fit', frogNFit, 3, RED_FIT, 9)
  ],
  graphic: [
    // panel titles
    { type: 'text', x: 694, y: 27, style: { text: 'HUMAN', font: '900 44px ' + FONT, fill: INK, align: 'right', verticalAlign: 'middle', textAlign: 'right', textVerticalAlign: 'middle' } },
    { type: 'text', x: 1383, y: 31, style: { text: 'CHICKEN', font: '900 44px ' + FONT, fill: INK, align: 'right', verticalAlign: 'middle', textAlign: 'right', textVerticalAlign: 'middle' } },
    { type: 'text', x: 690, y: 591, style: { text: 'TOKAY', font: '900 42px ' + FONT, fill: INK, align: 'right', verticalAlign: 'middle', textAlign: 'right', textVerticalAlign: 'middle' } },
    { type: 'text', x: 691, y: 629, style: { text: 'GECKO', font: '900 42px ' + FONT, fill: INK, align: 'right', verticalAlign: 'middle', textAlign: 'right', textVerticalAlign: 'middle' } },
    { type: 'text', x: 1370, y: 597, style: { text: 'FROG', font: '900 42px ' + FONT, fill: INK, align: 'right', verticalAlign: 'middle', textAlign: 'right', textVerticalAlign: 'middle' } },
    // frequency axis titles
    { type: 'text', x: 401, y: 1157, style: { text: 'Frequency [Hz]', font: '900 34px ' + FONT, fill: INK, align: 'center', verticalAlign: 'middle', textAlign: 'center', textVerticalAlign: 'middle' } },
    { type: 'text', x: 1095, y: 1153, style: { text: 'Frequency [Hz]', font: '900 34px ' + FONT, fill: INK, align: 'center', verticalAlign: 'middle', textAlign: 'center', textVerticalAlign: 'middle' } },
    // human legend
    { type: 'rect', shape: { x: 104, y: 481, width: 10, height: 10 }, style: { fill: 'none', stroke: GREEN, lineWidth: 1.6 } },
    { type: 'polygon', shape: { points: [[130, 478], [135.5, 486], [130, 494], [124.5, 486]] }, style: { fill: 'none', stroke: NAVY, lineWidth: 2 } },
    { type: 'text', x: 149, y: 486, style: {
        text: '{t|Psychophysical Q}{s|ERB}{t| (Oxenham and Shera, 2003)}', verticalAlign: 'middle', textVerticalAlign: 'middle',
        rich: {
          t: { fontFamily: FONT, fontWeight: 900, fontSize: 17, fill: INK, color: INK, lineHeight: 20, verticalAlign: 'bottom' },
          s: { fontFamily: FONT, fontWeight: 900, fontSize: 12, fill: INK, color: INK, lineHeight: 6, verticalAlign: 'bottom' }
        } } },
    // key for the fitted curves
    { type: 'rect', shape: { x: 1438.5, y: 513.5, width: 266, height: 166 }, style: { fill: '#fff', stroke: '#6b6b6b', lineWidth: 1.2 } },
    { type: 'line', shape: { x1: 1467, y1: 541, x2: 1554, y2: 541 }, style: { stroke: RED_FIT, lineWidth: 9 } },
    { type: 'line', shape: { x1: 1472, y1: 597, x2: 1559, y2: 597 }, style: { stroke: '#2f2f80', lineWidth: 9 } },
    { type: 'line', shape: { x1: 1472, y1: 622, x2: 1559, y2: 622 }, style: { stroke: GREEN_FIT, lineWidth: 9 } },
    { type: 'line', shape: { x1: 1472, y1: 648, x2: 1559, y2: 648 }, style: { stroke: BLACK, lineWidth: 9 } },
    { type: 'text', x: 1586, y: 545, style: {
        text: '{n|N}{s|SFOAE}', verticalAlign: 'middle', textVerticalAlign: 'middle',
        rich: {
          n: { fontFamily: FONT, fontWeight: 900, fontSize: 32, fill: INK, color: INK, lineHeight: 36, verticalAlign: 'bottom' },
          s: { fontFamily: FONT, fontWeight: 900, fontSize: 19, fill: INK, color: INK, lineHeight: 12, verticalAlign: 'bottom' }
        } } },
    { type: 'text', x: 1583, y: 621, style: { text: '}', font: 'normal 54px ' + FONT, fill: INK, align: 'center', verticalAlign: 'middle', textAlign: 'center', textVerticalAlign: 'middle' } },
    { type: 'text', x: 1617, y: 622, style: { text: 'Q', font: '900 42px ' + FONT, fill: INK, align: 'left', verticalAlign: 'middle', textAlign: 'left', textVerticalAlign: 'middle' } }
  ]
};

const chart = echarts.init(document.getElementById('chart'), null, { renderer: 'canvas' });
chart.setOption(option);
</script>
</body>
</html>
